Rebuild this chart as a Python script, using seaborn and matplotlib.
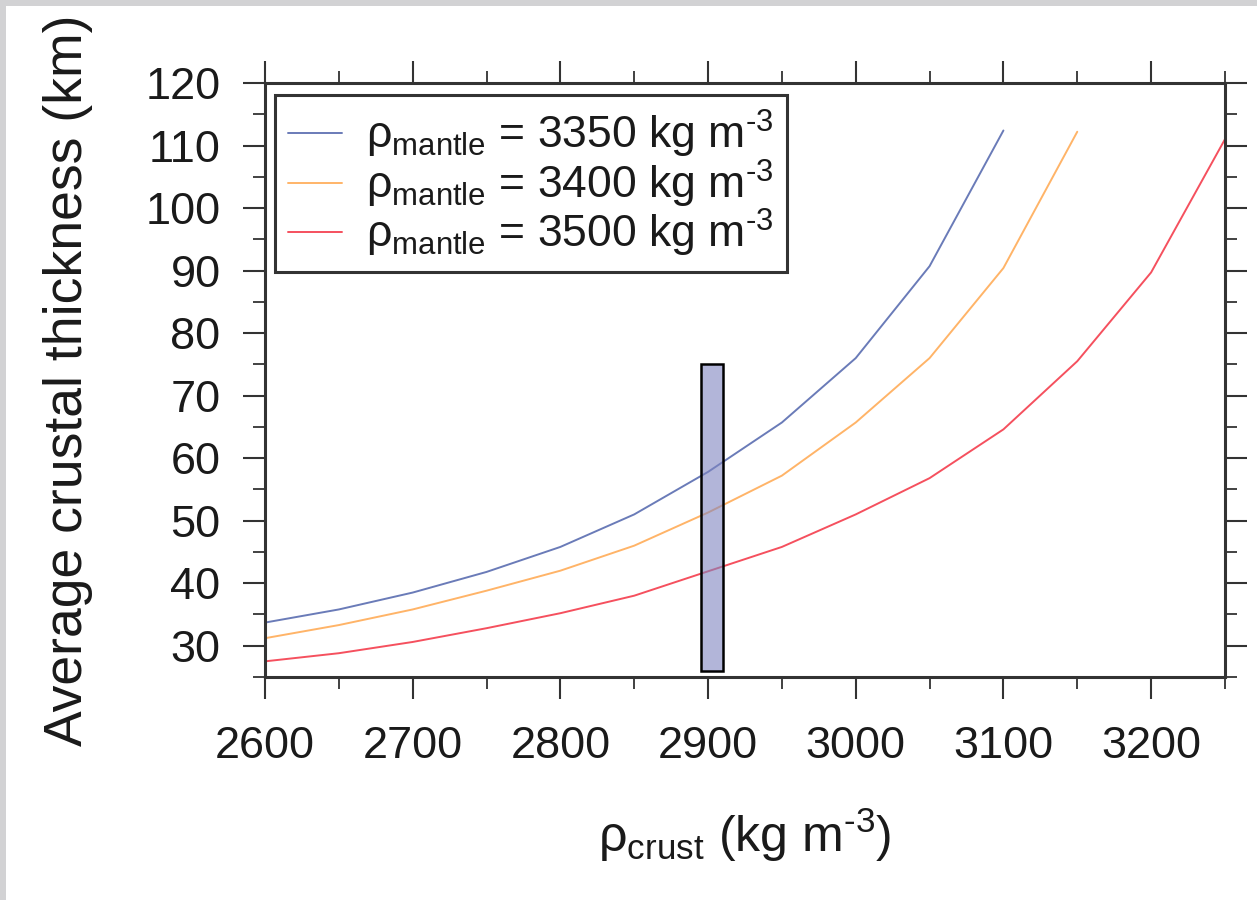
import matplotlib
matplotlib.use("Agg")
import matplotlib.pyplot as plt
import matplotlib.colors as mcolors
from matplotlib.patches import Rectangle
from matplotlib.ticker import MultipleLocator
import pandas as pd
import seaborn as sns

# crustal density (kg m-3) sampled every 50
rho_crust = [2600, 2650, 2700, 2750, 2800, 2850, 2900, 2950, 3000, 3050, 3100, 3150, 3200, 3250]

# average crustal thickness (km) for each mantle density
thick_3350 = [33.7, 35.8, 38.5, 41.8, 45.8, 51.0, 57.8, 65.7, 76.0, 90.7, 112.4]
thick_3400 = [31.2, 33.3, 35.8, 38.8, 42.0, 46.0, 51.3, 57.2, 65.7, 76.0, 90.4, 112.2]
thick_3500 = [27.5, 28.8, 30.6, 32.8, 35.2, 38.0, 41.9, 45.8, 51.0, 56.8, 64.6, 75.5, 89.7, 111.0]

mantle_labels = [
    r"$\mathrm{ρ_{mantle}}$ = 3350 kg m$^{\text{-3}}$",
    r"$\mathrm{ρ_{mantle}}$ = 3400 kg m$^{\text{-3}}$",
    r"$\mathrm{ρ_{mantle}}$ = 3500 kg m$^{\text{-3}}$",
]
line_colors = ["#6a7bb8", "#ffb468", "#f5505e"]

# shaded range of plausible crustal density / thickness
band_rho = [2895, 2910]
band_thick = [26, 75]

rows = []
for label, series in zip(mantle_labels, [thick_3350, thick_3400, thick_3500]):
    for rc, h in zip(rho_crust, series):
        rows.append({"rho_crust": rc, "thickness": h, "mantle": label})
df = pd.DataFrame(rows)

sns.set_theme(style="ticks")
plt.rcParams["font.family"] = ["Liberation Sans", "DejaVu Sans"]
plt.rcParams["mathtext.fontset"] = "custom"
plt.rcParams["mathtext.rm"] = "Liberation Sans"
plt.rcParams["mathtext.it"] = "Liberation Sans:italic"
plt.rcParams["mathtext.bf"] = "Liberation Sans:bold"
plt.rcParams["text.color"] = "#1a1a1a"
plt.rcParams["axes.labelcolor"] = "#1a1a1a"

fig = plt.figure(figsize=(12.57, 9), dpi=100)
ax = fig.add_axes([0.2108, 0.2478, 0.7637, 0.66])

sns.lineplot(data=df, x="rho_crust", y="thickness", hue="mantle",
             palette=line_colors, linewidth=1.4, ax=ax)

# the density band, semi transparent on top of the curves
ax.bar((band_rho[0] + band_rho[1]) / 2, band_thick[1] - band_thick[0],
       width=band_rho[1] - band_rho[0], bottom=band_thick[0],
       facecolor=mcolors.to_rgba("#7f84c0", 0.6), edgecolor="black",
       linewidth=1.8, zorder=5)

ax.set_xlim(2600, 3250)
ax.set_ylim(25, 120)
ax.xaxis.set_major_locator(MultipleLocator(100))
ax.xaxis.set_minor_locator(MultipleLocator(50))
ax.yaxis.set_major_locator(MultipleLocator(10))
ax.yaxis.set_minor_locator(MultipleLocator(5))
ax.set_yticks(range(30, 121, 10))

ax.tick_params(which="both", direction="out", top=True, right=True,
               labeltop=False, labelright=False, color="#333333",
               labelcolor="#1a1a1a")
ax.tick_params(which="major", length=16, width=1.5, labelsize=32.5, pad=16)
ax.tick_params(axis="x", which="major", pad=19)
ax.tick_params(which="minor", length=8.5, width=1.3)
for sp in ax.spines.values():
    sp.set_linewidth(2.2)
    sp.set_color("#333333")

ax.set_xlabel(r"$\mathrm{ρ_{crust}}$ (kg m$^{\text{-3}}$)", fontsize=36, va="center")
ax.xaxis.set_label_coords(0.5, -0.266)
ax.set_ylabel("Average crustal thickness (km)", fontsize=38.5, va="center")
ax.yaxis.set_label_coords(-0.205, 0.5)

sns.move_legend(ax, "upper left", bbox_to_anchor=(0.0104, 0.98), title=None,
                fontsize=32, frameon=True, fancybox=False, borderaxespad=0,
                handlelength=1.2, handletextpad=0.55, labelspacing=-0.06,
                borderpad=0.3)
leg = ax.get_legend()
leg.get_frame().set_edgecolor("#333333")
leg.get_frame().set_linewidth(2.2)
leg.get_frame().set_alpha(1)
for line in leg.get_lines():
    line.set_linewidth(1.4)

# thin grey screenshot border on the top and left
fig.patches.append(Rectangle((0, 1 - 6 / 900), 1, 6 / 900, transform=fig.transFigure,
                             facecolor="#d2d2d4", edgecolor="none"))
fig.patches.append(Rectangle((0, 0), 6 / 1257, 1, transform=fig.transFigure,
                             facecolor="#d2d2d4", edgecolor="none"))

fig.savefig("out.png", dpi=100)
